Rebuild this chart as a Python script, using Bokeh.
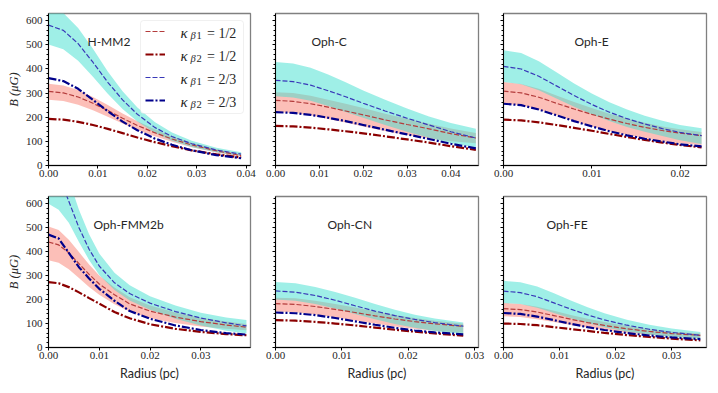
from bokeh.plotting import figure
from bokeh.models import (Range1d, FixedTicker, NumeralTickFormatter, Label, Legend, LegendItem,
                          BoxAnnotation)
from bokeh.layouts import column, row
from bokeh.core.properties import value
from bokeh.embed import file_html
from bokeh.resources import INLINE

# ---------------- data ----------------
names = ["H-MM2", "Oph-C", "Oph-E", "Oph-FMM2b", "Oph-CN", "Oph-FE"]
legend_labels = [("1", "1/2"), ("2", "1/2"), ("1", "2/3"), ("2", "2/3")]
y_ticks = [0, 100, 200, 300, 400, 500, 600]

# H-MM2
hmm2_r      = [0, 0.003, 0.006, 0.009, 0.012, 0.015, 0.018, 0.0215, 0.025, 0.029, 0.034, 0.039]
hmm2_b1_12  = [307, 301, 284, 258, 228, 196, 166, 136, 110, 85, 61, 41]
hmm2_b1_12l = [272, 267, 252, 229, 202, 174, 147, 121, 98, 76, 54, 36]
hmm2_b1_12h = [339, 332, 313, 284, 251, 216, 183, 150, 121, 94, 68, 46]
hmm2_b2_12  = [193, 190, 181, 168, 152, 134, 116, 97, 80, 63, 46, 33]
hmm2_b1_23  = [582, 560, 505, 428, 345, 272, 212, 158, 120, 90, 64, 47]
hmm2_b1_23l = [501, 482, 434, 368, 297, 234, 182, 136, 103, 77, 55, 40]
hmm2_b1_23h = [655, 632, 570, 484, 390, 308, 240, 180, 137, 103, 74, 55]
hmm2_b2_23  = [362, 350, 318, 272, 225, 182, 146, 112, 86, 63, 43, 30]

# Oph-C
ophc_r      = [0, 0.004, 0.008, 0.012, 0.016, 0.020, 0.025, 0.030, 0.035, 0.040, 0.0457]
ophc_b1_12  = [270, 266, 256, 242, 226, 210, 189, 170, 152, 132, 114]
ophc_b1_12l = [222, 218, 208, 193, 178, 162, 143, 126, 112, 100, 92]
ophc_b1_12h = [304, 300, 289, 273, 256, 238, 215, 194, 173, 153, 135]
ophc_b2_12  = [164, 162, 157, 150, 142, 133, 121, 108, 95, 80, 65]
ophc_b1_23  = [353, 348, 333, 310, 285, 258, 226, 196, 168, 140, 114]
ophc_b1_23l = [287, 282, 268, 247, 222, 198, 168, 140, 115, 93, 75]
ophc_b1_23h = [429, 423, 405, 377, 345, 311, 272, 236, 203, 176, 152]
ophc_b2_23  = [221, 218, 210, 198, 184, 168, 148, 129, 110, 90, 71]

# Oph-E
ophe_r      = [0, 0.002, 0.004, 0.006, 0.008, 0.010, 0.012, 0.014, 0.016, 0.018, 0.020, 0.02244]
ophe_b1_12  = [308, 301, 283, 258, 234, 212, 192, 174, 158, 145, 134, 124]
ophe_b1_12l = [256, 250, 232, 208, 184, 162, 143, 127, 113, 101, 92, 85]
ophe_b1_12h = [346, 338, 318, 290, 263, 238, 215, 195, 177, 162, 150, 139]
ophe_b2_12  = [190, 187, 179, 168, 156, 144, 131, 118, 106, 95, 85, 75]
ophe_b1_23  = [411, 400, 370, 330, 290, 253, 221, 194, 172, 153, 137, 124]
ophe_b1_23l = [346, 337, 312, 278, 244, 212, 184, 160, 140, 122, 105, 89]
ophe_b1_23h = [478, 466, 432, 386, 340, 298, 262, 232, 206, 185, 168, 154]
ophe_b2_23  = [256, 250, 232, 208, 184, 162, 142, 125, 111, 99, 88, 79]

# Oph-FMM2b
fmm_r       = [0, 0.002, 0.004, 0.006, 0.008, 0.010, 0.013, 0.016, 0.020, 0.025, 0.030, 0.035, 0.039]
fmm_b1_12   = [440, 428, 395, 350, 305, 265, 220, 182, 152, 127, 108, 94, 85]
fmm_b1_12l  = [364, 354, 326, 290, 252, 220, 180, 150, 122, 102, 88, 78, 72]
fmm_b1_12h  = [505, 490, 450, 398, 346, 300, 250, 210, 175, 146, 124, 108, 98]
fmm_b2_12   = [273, 268, 252, 230, 206, 183, 148, 122, 97, 78, 65, 56, 51]
fmm_b1_23   = [760, 720, 610, 500, 410, 340, 270, 225, 185, 150, 123, 103, 90]
fmm_b1_23l  = [600, 575, 520, 440, 365, 302, 240, 196, 158, 120, 92, 70, 58]
fmm_b1_23h  = [900, 840, 700, 575, 472, 392, 312, 260, 214, 175, 145, 125, 115]
fmm_b2_23   = [471, 455, 395, 335, 288, 245, 195, 152, 120, 92, 73, 60, 54]

# Oph-CN
ophcn_r      = [0, 0.003, 0.006, 0.009, 0.012, 0.015, 0.018, 0.021, 0.024, 0.0283]
ophcn_b1_12  = [183, 180, 171, 159, 146, 132, 119, 108, 99, 88]
ophcn_b1_12l = [150, 147, 138, 126, 113, 100, 88, 78, 70, 62]
ophcn_b1_12h = [208, 205, 195, 182, 167, 151, 136, 123, 112, 99]
ophcn_b2_12  = [114, 112, 107, 100, 92, 83, 74, 66, 59, 49]
ophcn_b1_23  = [236, 231, 217, 197, 174, 152, 133, 117, 104, 89]
ophcn_b1_23l = [200, 195, 182, 163, 140, 118, 98, 82, 69, 55]
ophcn_b1_23h = [273, 268, 252, 232, 208, 182, 158, 137, 121, 104]
ophcn_b2_23  = [146, 143, 135, 123, 109, 95, 82, 71, 63, 55]

# Oph-FE
ophfe_r      = [0, 0.003, 0.006, 0.009, 0.012, 0.015, 0.018, 0.022, 0.026, 0.030, 0.0351]
ophfe_b1_12  = [162, 158, 148, 133, 118, 104, 92, 78, 67, 58, 51]
ophfe_b1_12l = [130, 127, 118, 106, 94, 83, 73, 62, 53, 46, 40]
ophfe_b1_12h = [186, 182, 170, 153, 136, 120, 106, 90, 77, 67, 58]
ophfe_b2_12  = [100, 98, 93, 85, 77, 69, 61, 52, 44, 37, 30]
ophfe_b1_23  = [235, 229, 212, 186, 160, 136, 115, 93, 76, 63, 51]
ophfe_b1_23l = [186, 181, 166, 144, 122, 102, 85, 67, 54, 44, 35]
ophfe_b1_23h = [278, 272, 254, 226, 196, 168, 143, 116, 95, 79, 65]
ophfe_b2_23  = [144, 140, 129, 114, 99, 85, 73, 60, 50, 42, 35]

x_max = [0.0409, 0.0463, 0.0230, 0.0398, 0.0306, 0.0362]
x_ticks = [[0, 0.01, 0.02, 0.03, 0.04], [0, 0.01, 0.02, 0.03, 0.04], [0, 0.01, 0.02],
           [0, 0.01, 0.02, 0.03], [0, 0.01, 0.02, 0.03], [0, 0.01, 0.02, 0.03]]

panels = [
    (hmm2_r, hmm2_b1_12, hmm2_b1_12l, hmm2_b1_12h, hmm2_b2_12, hmm2_b1_23, hmm2_b1_23l, hmm2_b1_23h, hmm2_b2_23),
    (ophc_r, ophc_b1_12, ophc_b1_12l, ophc_b1_12h, ophc_b2_12, ophc_b1_23, ophc_b1_23l, ophc_b1_23h, ophc_b2_23),
    (ophe_r, ophe_b1_12, ophe_b1_12l, ophe_b1_12h, ophe_b2_12, ophe_b1_23, ophe_b1_23l, ophe_b1_23h, ophe_b2_23),
    (fmm_r, fmm_b1_12, fmm_b1_12l, fmm_b1_12h, fmm_b2_12, fmm_b1_23, fmm_b1_23l, fmm_b1_23h, fmm_b2_23),
    (ophcn_r, ophcn_b1_12, ophcn_b1_12l, ophcn_b1_12h, ophcn_b2_12, ophcn_b1_23, ophcn_b1_23l, ophcn_b1_23h, ophcn_b2_23),
    (ophfe_r, ophfe_b1_12, ophfe_b1_12l, ophfe_b1_12h, ophfe_b2_12, ophfe_b1_23, ophfe_b1_23l, ophfe_b1_23h, ophfe_b2_23),
]

# ---------------- styles / layout ----------------
Y_MAX = 630
SERIF = "Liberation Serif"
SANS = "Lato"
TXT = "#262626"
RED_D, RED_DD = "#b43c3c", "#8b0000"
BLUE_D, BLUE_DD = "#3838b8", "#00008b"
SALMON, TURQ = "#fa8072", "#40e0d0"

col_borders = [(48, 12), (13, 12), (13, 12)]
col_frame_w = [202, 203, 203]
row_borders = [(13, 25), (6, 42)]
row_frame_h = [152, 151]
title_dx = [39, 36, 71, 45, 52, 43]
TITLE_DY = 28
LEG_SHIFT = -3


def make_panel(i):
    ri, ci = divmod(i, 3)
    bl, br = col_borders[ci]
    bt, bb = row_borders[ri]
    fw, fh = col_frame_w[ci], row_frame_h[ri]
    xm = x_max[i]
    p = figure(width=bl + fw + br, height=bt + fh + bb, output_backend="svg",
               toolbar_location=None, x_range=Range1d(0, xm), y_range=Range1d(0, Y_MAX),
               min_border_left=bl, min_border_right=br, min_border_top=bt, min_border_bottom=bb)
    p.xgrid.visible = False
    p.ygrid.visible = False
    p.outline_line_color = "#808080"
    p.outline_line_width = 1.3
    p.background_fill_color = "white"
    p.border_fill_color = "white"

    r, b112, b112l, b112h, b212, b123, b123l, b123h, b223 = panels[i]
    p.varea(x=r, y1=b112l, y2=b112h, fill_color=SALMON, fill_alpha=0.5)
    p.varea(x=r, y1=b123l, y2=b123h, fill_color=TURQ, fill_alpha=0.5)
    l1 = p.line(r, b112, line_color=RED_D, line_width=1.2, line_dash="5 2")
    l2 = p.line(r, b212, line_color=RED_DD, line_width=2.2, line_dash="8 2 2 2")
    l3 = p.line(r, b123, line_color=BLUE_D, line_width=1.2, line_dash="5 2")
    l4 = p.line(r, b223, line_color=BLUE_DD, line_width=2.2, line_dash="8 2 2 2")

    for ax in (p.xaxis[0], p.yaxis[0]):
        ax.axis_line_color = "black"
        ax.axis_line_width = 1
        ax.major_tick_line_color = "black"
        ax.minor_tick_line_color = "black"
        ax.major_tick_in = 0
        ax.major_tick_out = 3
        ax.minor_tick_in = 0
        ax.minor_tick_out = 2
        ax.major_label_text_font = SERIF
        ax.major_label_text_font_size = "11px"
        ax.major_label_text_color = TXT

    p.xaxis.ticker = FixedTicker(ticks=x_ticks[i], minor_ticks=[])
    p.xaxis.formatter = NumeralTickFormatter(format="0.00")
    p.xaxis.major_label_standoff = 1
    p.yaxis.ticker = FixedTicker(ticks=y_ticks, minor_ticks=list(range(0, 640, 20)))
    p.yaxis.major_label_standoff = 3

    if ci == 0:
        p.yaxis.axis_label = "B (μG)"
        p.yaxis.axis_label_text_font = SERIF
        p.yaxis.axis_label_text_font_style = "italic"
        p.yaxis.axis_label_text_font_size = "12.5px"
        p.yaxis.axis_label_standoff = 2
        p.yaxis.axis_label_text_color = TXT
    else:
        p.yaxis.major_label_overrides = {t: "" for t in y_ticks}
    if ri == 1:
        p.xaxis.axis_label = "Radius (pc)"
        p.xaxis.axis_label_text_font = SANS
        p.xaxis.axis_label_text_font_style = "normal"
        p.xaxis.axis_label_text_font_size = "12.5px"
        p.xaxis.axis_label_standoff = 4
        p.xaxis.axis_label_text_color = TXT

    def dx(px):
        return xm * px / fw

    def dy(py):
        return Y_MAX * (1 - py / fh)

    p.add_layout(Label(x=dx(title_dx[i]), y=dy(TITLE_DY), text=names[i], text_font=SANS,
                       text_font_size="12px", text_color=TXT, text_baseline="alphabetic"))

    if i == 0:
        # legend frame (drawn right after the curves, below the legend texts)
        p.add_layout(BoxAnnotation(left=dx(92), right=dx(195), top=dy(7), bottom=dy(100),
                                   fill_color="white", fill_alpha=0.85, line_color="#cccccc",
                                   line_width=1, border_radius=3, level="glyph"))
        rends = [l1, l2, l3, l4]
        items = [LegendItem(label=value(" "), renderers=[rr]) for rr in rends]
        leg = Legend(items=items, location="top_right", margin=7, padding=5, spacing=11,
                     glyph_width=20, glyph_height=12, label_height=12, label_width=68,
                     label_standoff=5, label_text_font_size="1px",
                     border_line_alpha=0, background_fill_alpha=0)
        p.add_layout(leg)
        rows_y = [18 + LEG_SHIFT + k * 23 for k in range(4)]
        for k, (sub, frac) in enumerate(legend_labels):
            cy = rows_y[k]
            p.add_layout(Label(x=dx(132), y=dy(cy + 4.5), text="κ", text_font=SERIF,
                               text_font_style="italic", text_font_size="15px",
                               text_color=TXT, text_baseline="alphabetic"))
            p.add_layout(Label(x=dx(142), y=dy(cy + 7), text="β", text_font=SERIF,
                               text_font_style="italic", text_font_size="10.5px",
                               text_color=TXT, text_baseline="alphabetic"))
            p.add_layout(Label(x=dx(148), y=dy(cy + 7), text=sub, text_font=SERIF,
                               text_font_size="10.5px",
                               text_color=TXT, text_baseline="alphabetic"))
            p.add_layout(Label(x=dx(158.5), y=dy(cy + 4.5), text="= " + frac, text_font=SERIF,
                               text_font_size="14px",
                               text_color=TXT, text_baseline="alphabetic"))
    return p


figs = [make_panel(i) for i in range(6)]
layout = column(row(*figs[:3]), row(*figs[3:]))
open("out.html", "w").write(file_html(layout, INLINE))
